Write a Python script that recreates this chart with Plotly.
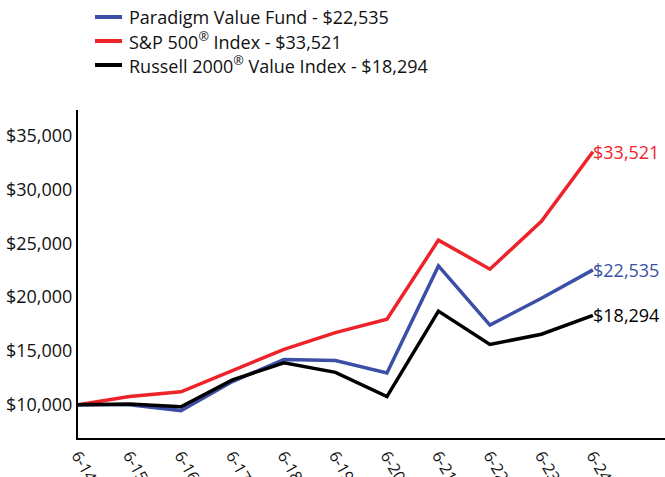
import plotly.graph_objects as go

periods = ["6-14", "6-15", "6-16", "6-17", "6-18", "6-19", "6-20", "6-21", "6-22", "6-23", "6-24"]
paradigm = [10000, 10000, 9450, 12150, 14200, 14100, 12950, 22900, 17400, 19900, 22535]
sp500 = [10000, 10750, 11200, 13200, 15150, 16700, 17950, 25300, 22600, 27050, 33521]
russell = [10000, 10050, 9800, 12300, 13900, 13000, 10750, 18700, 15600, 16550, 18294]

y_ticks = [10000, 15000, 20000, 25000, 30000, 35000]
y_ticktext = ["$10,000", "$15,000", "$20,000", "$25,000", "$30,000", "$35,000"]

names = ["Paradigm Value Fund - $22,535",
         "S&P 500<sup>®</sup> Index - $33,521",
         "Russell 2000<sup>®</sup> Value Index - $18,294"]
end_labels = ["$22,535", "$33,521", "$18,294"]
colors = ["#3A4FA5", "#EE2229", "#000000"]
series = [paradigm, sp500, russell]

FONT = "Open Sans, Noto Sans, sans-serif"
xs = list(range(len(periods)))

W, H = 665, 477
ML, MR, MT, MB = 78, 0, 110, 39
PW, PH = W - ML - MR, H - MT - MB


def px_x(p):
    return (p - ML) / PW


def px_y(p):
    return (H - MB - p) / PH


fig = go.Figure()
for s, n, c in zip(series, names, colors):
    fig.add_trace(go.Scatter(x=xs, y=s, mode="lines", name=n, showlegend=False,
                             line=dict(color=c, width=3.5)))
for s, lbl, c in zip(series, end_labels, colors):
    fig.add_annotation(x=xs[-1], y=s[-1], text=lbl, showarrow=False,
                       xanchor="left", yanchor="middle", xshift=-2,
                       font=dict(family=FONT, size=18, color=c))

# custom legend
legend_rows = [17, 41, 65]
for row, n, c in zip(legend_rows, names, colors):
    fig.add_shape(type="line", xref="paper", yref="paper",
                  x0=px_x(95), x1=px_x(122), y0=px_y(row), y1=px_y(row),
                  line=dict(color=c, width=4))
    fig.add_annotation(xref="paper", yref="paper", x=px_x(127), y=px_y(row),
                       text=n, showarrow=False, xanchor="left", yanchor="middle",
                       font=dict(family=FONT, size=18, color="#111111"))

fig.update_layout(
    width=W, height=H,
    margin=dict(l=ML, r=MR, t=MT, b=MB, autoexpand=False),
    paper_bgcolor="white", plot_bgcolor="white",
    font=dict(family=FONT, size=18, color="#111111"),
    showlegend=False,
)
fig.update_xaxes(range=[0, 11.4], tickvals=xs, ticktext=periods, tickangle=60,
                 showline=True, linecolor="black", linewidth=2, showgrid=False,
                 zeroline=False, ticks="", tickfont=dict(size=16))
fig.update_yaxes(range=[6900, 37400], tickvals=y_ticks, ticktext=y_ticktext,
                 showline=True, linecolor="black",
                 linewidth=2, showgrid=False, zeroline=False, ticks="",
                 tickfont=dict(size=18))

fig.write_html("out.html", config={"displayModeBar": False},
               post_script="document.body.style.margin='0';")
